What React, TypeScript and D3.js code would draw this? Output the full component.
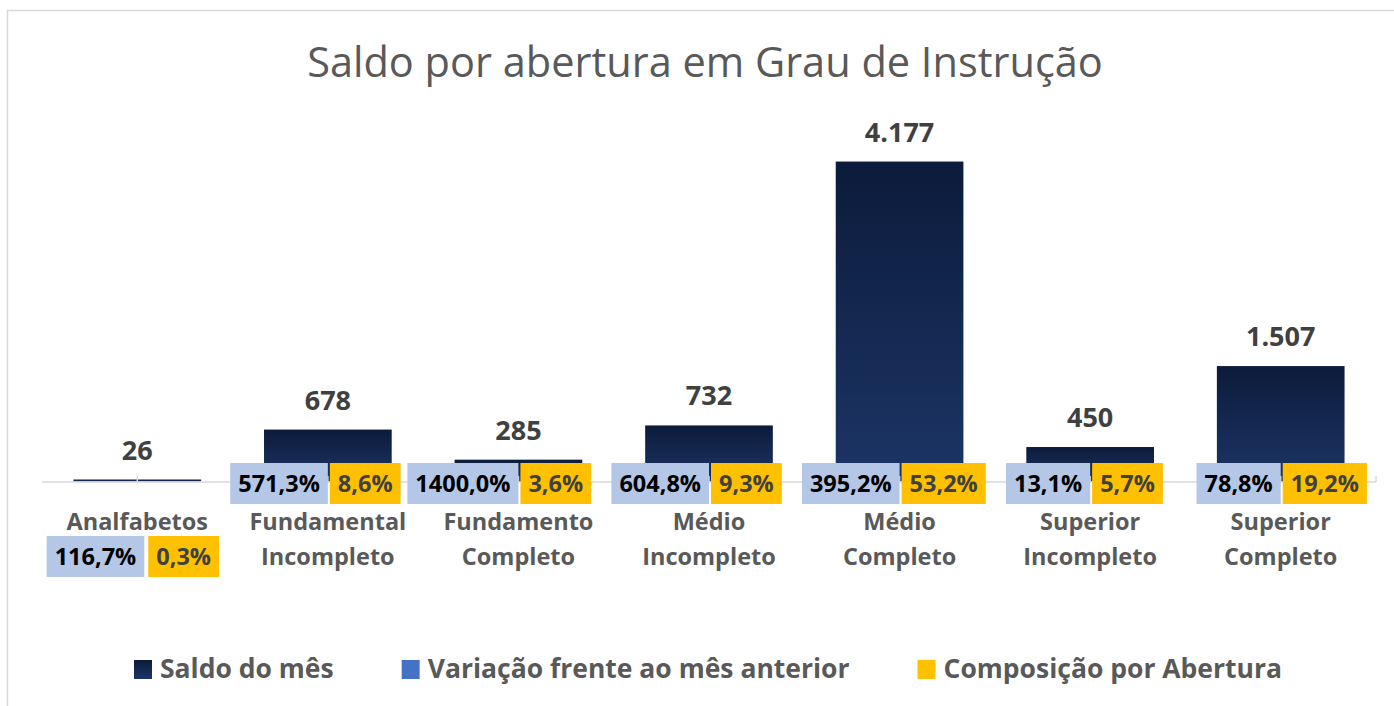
import React, { useEffect, useRef } from "react";
import * as d3 from "d3";

const categories = [
  "Analfabetos",
  "Fundamental Incompleto",
  "Fundamento Completo",
  "Médio Incompleto",
  "Médio Completo",
  "Superior Incompleto",
  "Superior Completo",
];
const saldo = [26, 678, 285, 732, 4177, 450, 1507];
const variacao = [116.7, 571.3, 1400.0, 604.8, 395.2, 13.1, 78.8];
const composicao = [0.3, 8.6, 3.6, 9.3, 53.2, 5.7, 19.2];
const seriesNames = [
  "Saldo do mês",
  "Variação frente ao mês anterior",
  "Composição por Abertura",
];
const chartTitle = "Saldo por abertura em Grau de Instrução";
const labelsBelowAxis = new Set(["Analfabetos"]);

const W = 1394;
const H = 706;
const FONT = "'Open Sans', 'Noto Sans', 'DejaVu Sans', sans-serif";

export default function App() {
  const ref = useRef<SVGSVGElement>(null);

  useEffect(() => {
    const svg = d3.select(ref.current as SVGSVGElement);
    svg.selectAll("*").remove();

    const locale = d3.formatLocale({
      decimal: ",",
      thousands: ".",
      grouping: [3],
      currency: ["R$", ""],
    });
    const fmtInt = locale.format(",d");
    const fmtPct = (v: number) => locale.format(".1f")(v) + "%";

    const defs = svg.append("defs");
    const grad = defs
      .append("linearGradient")
      .attr("id", "barGrad")
      .attr("x1", 0)
      .attr("y1", 0)
      .attr("x2", 0)
      .attr("y2", 1);
    grad.append("stop").attr("offset", "0%").attr("stop-color", "#0c1b3b");
    grad.append("stop").attr("offset", "100%").attr("stop-color", "#1c3566");

    // chart area border
    svg
      .append("rect")
      .attr("x", 7.5)
      .attr("y", 10.5)
      .attr("width", W)
      .attr("height", H)
      .attr("fill", "#fff")
      .attr("stroke", "#d9d9d9")
      .attr("stroke-width", 1.5);

    // title
    svg
      .append("text")
      .attr("x", 705)
      .attr("y", 77)
      .attr("text-anchor", "middle")
      .attr("font-family", FONT)
      .attr("font-size", 41.5)
      .attr("fill", "#595959")
      .text(chartTitle);

    const x = d3
      .scaleBand<string>()
      .domain(categories)
      .range([42, 1376])
      .paddingInner(0.33)
      .paddingOuter(0.165);
    const y = d3.scaleLinear().domain([0, 4500]).range([481.5, 136.8]);
    const cx = (c: string) => (x(c) as number) + x.bandwidth() / 2;

    // bars
    svg
      .append("g")
      .selectAll("rect")
      .data(saldo)
      .join("rect")
      .attr("x", (_, i) => x(categories[i]) as number)
      .attr("y", (d) => y(d))
      .attr("width", x.bandwidth())
      .attr("height", (d) => y(0) - y(d))
      .attr("fill", "url(#barGrad)");

    // axis line
    const [r0, r1] = x.range();
    svg
      .append("line")
      .attr("x1", r0)
      .attr("x2", r1)
      .attr("y1", 482)
      .attr("y2", 482)
      .attr("stroke", "#d9d9d9")
      .attr("stroke-width", 1.6);
    const tickXs = categories.map(cx).concat([r1]);
    svg
      .append("g")
      .selectAll("line")
      .data(tickXs)
      .join("line")
      .attr("x1", (d) => d)
      .attr("x2", (d) => d)
      .attr("y1", 476)
      .attr("y2", 482)
      .attr("stroke", "#d9d9d9")
      .attr("stroke-width", 1.5);

    // value labels
    svg
      .append("g")
      .selectAll("text")
      .data(saldo)
      .join("text")
      .attr("x", (_, i) => cx(categories[i]))
      .attr("y", (d) => y(d) - 20)
      .attr("text-anchor", "middle")
      .attr("font-family", FONT)
      .attr("font-weight", 700)
      .attr("font-size", 27)
      .attr("fill", "#404040")
      .text((d) => fmtInt(d));

    // category labels
    const catG = svg.append("g");
    categories.forEach((c) => {
      const words = c.split(" ");
      const t = catG
        .append("text")
        .attr("text-anchor", "middle")
        .attr("font-family", FONT)
        .attr("font-weight", 700)
        .attr("font-size", 23.5)
        .attr("fill", "#595959");
      words.forEach((w, k) => {
        t.append("tspan")
          .attr("x", cx(c))
          .attr("y", 530 + k * 35)
          .text(w);
      });
    });

    // percentage label boxes
    const boxG = svg.append("g");
    categories.forEach((c, i) => {
      const below = labelsBelowAxis.has(c);
      const top = below ? 536 : 463;
      const bh = 41;
      const center = cx(c);

      const blueText = boxG
        .append("text")
        .attr("font-family", FONT)
        .attr("font-weight", 700)
        .attr("font-size", 23.5)
        .attr("fill", "#000000")
        .attr("text-anchor", "middle")
        .text(fmtPct(variacao[i]));
      const bw = (blueText.node() as SVGTextElement).getComputedTextLength() + 16;
      const blueRight = below ? center + 7 : center;
      boxG
        .insert("rect", () => blueText.node() as SVGTextElement)
        .attr("x", blueRight - bw)
        .attr("y", top)
        .attr("width", bw)
        .attr("height", bh)
        .attr("fill", "#b4c7e7");
      blueText.attr("x", blueRight - bw / 2).attr("y", top + 29);

      const yelText = boxG
        .append("text")
        .attr("font-family", FONT)
        .attr("font-weight", 700)
        .attr("font-size", 23.5)
        .attr("fill", "#404040")
        .attr("text-anchor", "middle")
        .text(fmtPct(composicao[i]));
      const yw = (yelText.node() as SVGTextElement).getComputedTextLength() + 16;
      const yelLeft = blueRight + (below ? 4 : 2);
      boxG
        .insert("rect", () => yelText.node() as SVGTextElement)
        .attr("x", yelLeft)
        .attr("y", top)
        .attr("width", yw)
        .attr("height", bh)
        .attr("fill", "#ffc000");
      yelText.attr("x", yelLeft + yw / 2).attr("y", top + 29);
    });

    // legend
    const legendColors = ["url(#barGrad)", "#4472c4", "#ffc000"];
    const legG = svg.append("g");
    const items = seriesNames.map((name, i) => {
      const g = legG.append("g");
      g.append("rect")
        .attr("x", 0)
        .attr("y", 660)
        .attr("width", 18)
        .attr("height", 19)
        .attr("fill", legendColors[i]);
      const t = g
        .append("text")
        .attr("x", 26)
        .attr("y", 678)
        .attr("font-family", FONT)
        .attr("font-weight", 700)
        .attr("font-size", 26.5)
        .attr("fill", "#595959")
        .text(name);
      const w = 26 + (t.node() as SVGTextElement).getComputedTextLength();
      return { g, w };
    });
    const spacing = 68;
    const total = d3.sum(items, (d) => d.w) + spacing * (items.length - 1);
    let pos = 708 - total / 2;
    items.forEach((it) => {
      it.g.attr("transform", `translate(${pos},0)`);
      pos += it.w + spacing;
    });
  }, []);

  return (
    <svg
      ref={ref}
      width={W}
      height={H}
      style={{ position: "absolute", left: 0, top: 0, background: "#fff" }}
    />
  );
}
